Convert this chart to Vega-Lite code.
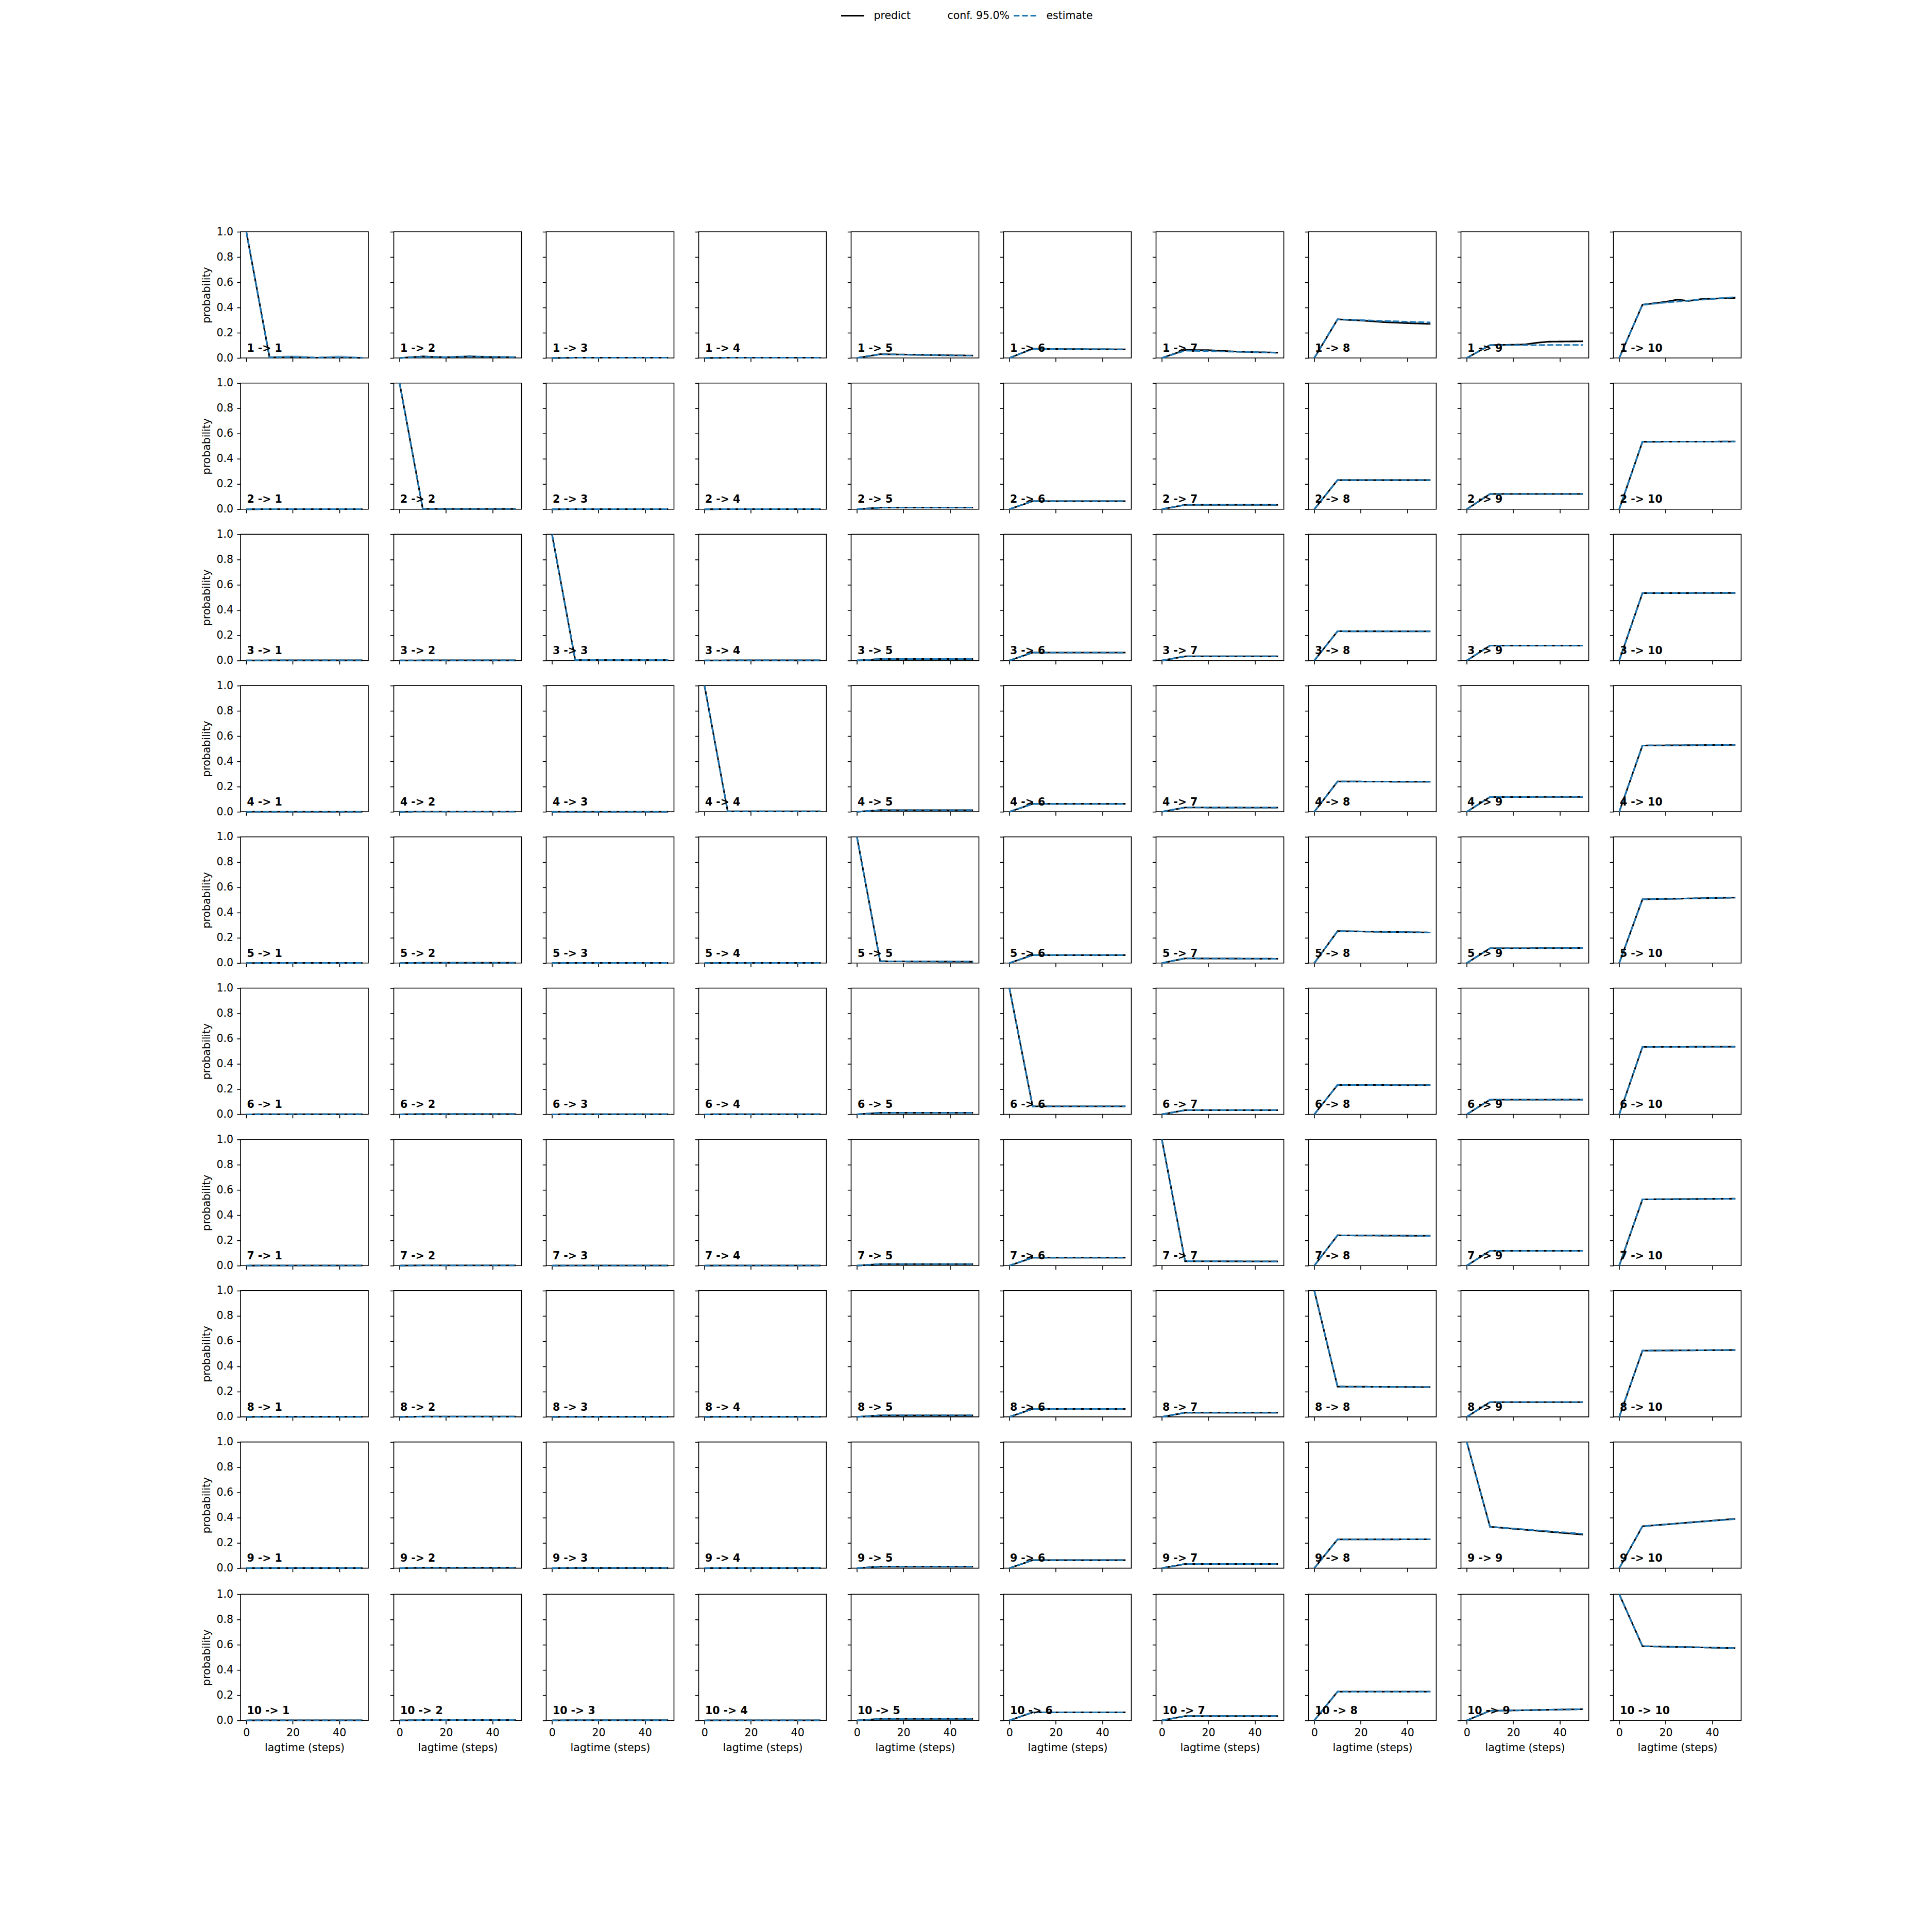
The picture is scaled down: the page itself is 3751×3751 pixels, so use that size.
{
"$schema": "https://vega.github.io/schema/vega-lite/v6.json",
"background": "white",
"padding": {"left": 391, "top": 6, "right": 0, "bottom": 0},
"autosize": {"type": "pad"},
"datasets": {"ck": [
{"i":1,"j":1,"lag":0,"predict":1,"estimate":1,"lo":1,"hi":1,"label":"1 -> 1"},
{"i":1,"j":1,"lag":10,"predict":0.004,"estimate":0.004,"lo":0,"hi":0.01},
{"i":1,"j":1,"lag":20,"predict":0.006,"estimate":0.008,"lo":0,"hi":0.025},
{"i":1,"j":1,"lag":30,"predict":0.002,"estimate":0.003,"lo":0,"hi":0.008},
{"i":1,"j":1,"lag":40,"predict":0.004,"estimate":0.006,"lo":0,"hi":0.022},
{"i":1,"j":1,"lag":50,"predict":0.001,"estimate":0.002,"lo":0,"hi":0.005},
{"i":1,"j":2,"lag":0,"predict":0,"estimate":0,"lo":0,"hi":0,"label":"1 -> 2"},
{"i":1,"j":2,"lag":10,"predict":0.012,"estimate":0.01,"lo":0,"hi":0.02},
{"i":1,"j":2,"lag":20,"predict":0.005,"estimate":0.006,"lo":0,"hi":0.012},
{"i":1,"j":2,"lag":30,"predict":0.012,"estimate":0.012,"lo":0.002,"hi":0.025},
{"i":1,"j":2,"lag":40,"predict":0.007,"estimate":0.008,"lo":0,"hi":0.015},
{"i":1,"j":2,"lag":50,"predict":0.006,"estimate":0.006,"lo":0,"hi":0.012},
{"i":1,"j":3,"lag":0,"predict":0,"estimate":0,"lo":0,"hi":0,"label":"1 -> 3"},
{"i":1,"j":3,"lag":10,"predict":0.002,"estimate":0.002,"lo":0,"hi":0.004},
{"i":1,"j":3,"lag":20,"predict":0.002,"estimate":0.002,"lo":0,"hi":0.004},
{"i":1,"j":3,"lag":30,"predict":0.002,"estimate":0.002,"lo":0,"hi":0.004},
{"i":1,"j":3,"lag":40,"predict":0.002,"estimate":0.002,"lo":0,"hi":0.004},
{"i":1,"j":3,"lag":50,"predict":0.002,"estimate":0.002,"lo":0,"hi":0.004},
{"i":1,"j":4,"lag":0,"predict":0,"estimate":0,"lo":0,"hi":0,"label":"1 -> 4"},
{"i":1,"j":4,"lag":10,"predict":0.002,"estimate":0.002,"lo":0,"hi":0.004},
{"i":1,"j":4,"lag":20,"predict":0.002,"estimate":0.002,"lo":0,"hi":0.004},
{"i":1,"j":4,"lag":30,"predict":0.002,"estimate":0.002,"lo":0,"hi":0.004},
{"i":1,"j":4,"lag":40,"predict":0.002,"estimate":0.002,"lo":0,"hi":0.004},
{"i":1,"j":4,"lag":50,"predict":0.002,"estimate":0.002,"lo":0,"hi":0.004},
{"i":1,"j":5,"lag":0,"predict":0,"estimate":0,"lo":0,"hi":0,"label":"1 -> 5"},
{"i":1,"j":5,"lag":10,"predict":0.03,"estimate":0.029,"lo":0.025,"hi":0.033},
{"i":1,"j":5,"lag":20,"predict":0.027,"estimate":0.026,"lo":0.022,"hi":0.03},
{"i":1,"j":5,"lag":30,"predict":0.024,"estimate":0.023,"lo":0.019,"hi":0.027},
{"i":1,"j":5,"lag":40,"predict":0.021,"estimate":0.02,"lo":0.016,"hi":0.024},
{"i":1,"j":5,"lag":50,"predict":0.019,"estimate":0.018,"lo":0.014,"hi":0.022},
{"i":1,"j":6,"lag":0,"predict":0,"estimate":0,"lo":0,"hi":0,"label":"1 -> 6"},
{"i":1,"j":6,"lag":10,"predict":0.073,"estimate":0.072,"lo":0.068,"hi":0.077},
{"i":1,"j":6,"lag":20,"predict":0.071,"estimate":0.071,"lo":0.067,"hi":0.075},
{"i":1,"j":6,"lag":30,"predict":0.07,"estimate":0.07,"lo":0.066,"hi":0.074},
{"i":1,"j":6,"lag":40,"predict":0.069,"estimate":0.069,"lo":0.065,"hi":0.073},
{"i":1,"j":6,"lag":50,"predict":0.068,"estimate":0.068,"lo":0.064,"hi":0.072},
{"i":1,"j":7,"lag":0,"predict":0,"estimate":0,"lo":0,"hi":0,"label":"1 -> 7"},
{"i":1,"j":7,"lag":10,"predict":0.063,"estimate":0.058,"lo":0.054,"hi":0.062},
{"i":1,"j":7,"lag":20,"predict":0.062,"estimate":0.054,"lo":0.05,"hi":0.058},
{"i":1,"j":7,"lag":30,"predict":0.052,"estimate":0.05,"lo":0.046,"hi":0.054},
{"i":1,"j":7,"lag":40,"predict":0.046,"estimate":0.046,"lo":0.042,"hi":0.05},
{"i":1,"j":7,"lag":50,"predict":0.042,"estimate":0.042,"lo":0.038,"hi":0.046},
{"i":1,"j":8,"lag":0,"predict":0,"estimate":0,"lo":0,"hi":0,"label":"1 -> 8"},
{"i":1,"j":8,"lag":10,"predict":0.306,"estimate":0.306,"lo":0.3,"hi":0.312},
{"i":1,"j":8,"lag":20,"predict":0.297,"estimate":0.3,"lo":0.294,"hi":0.306},
{"i":1,"j":8,"lag":30,"predict":0.284,"estimate":0.293,"lo":0.287,"hi":0.299},
{"i":1,"j":8,"lag":40,"predict":0.276,"estimate":0.287,"lo":0.281,"hi":0.293},
{"i":1,"j":8,"lag":50,"predict":0.27,"estimate":0.281,"lo":0.275,"hi":0.287},
{"i":1,"j":9,"lag":0,"predict":0,"estimate":0,"lo":0,"hi":0,"label":"1 -> 9"},
{"i":1,"j":9,"lag":10,"predict":0.102,"estimate":0.102,"lo":0.098,"hi":0.106},
{"i":1,"j":9,"lag":20,"predict":0.105,"estimate":0.102,"lo":0.098,"hi":0.106},
{"i":1,"j":9,"lag":25,"predict":0.107,"estimate":0.102,"lo":0.098,"hi":0.106},
{"i":1,"j":9,"lag":30,"predict":0.12,"estimate":0.102,"lo":0.098,"hi":0.106},
{"i":1,"j":9,"lag":35,"predict":0.129,"estimate":0.103,"lo":0.099,"hi":0.107},
{"i":1,"j":9,"lag":40,"predict":0.13,"estimate":0.103,"lo":0.099,"hi":0.107},
{"i":1,"j":9,"lag":50,"predict":0.132,"estimate":0.103,"lo":0.099,"hi":0.107},
{"i":1,"j":10,"lag":0,"predict":0,"estimate":0,"lo":0,"hi":0,"label":"1 -> 10"},
{"i":1,"j":10,"lag":10,"predict":0.422,"estimate":0.422,"lo":0.414,"hi":0.43},
{"i":1,"j":10,"lag":20,"predict":0.445,"estimate":0.44,"lo":0.432,"hi":0.448},
{"i":1,"j":10,"lag":25,"predict":0.462,"estimate":0.447,"lo":0.439,"hi":0.455},
{"i":1,"j":10,"lag":30,"predict":0.452,"estimate":0.455,"lo":0.447,"hi":0.463},
{"i":1,"j":10,"lag":35,"predict":0.466,"estimate":0.462,"lo":0.454,"hi":0.47},
{"i":1,"j":10,"lag":40,"predict":0.47,"estimate":0.468,"lo":0.46,"hi":0.476},
{"i":1,"j":10,"lag":50,"predict":0.476,"estimate":0.482,"lo":0.474,"hi":0.49},
{"i":2,"j":1,"lag":0,"predict":0,"estimate":0,"label":"2 -> 1"},
{"i":2,"j":1,"lag":10,"predict":0.001,"estimate":0.001},
{"i":2,"j":1,"lag":50,"predict":0.001,"estimate":0.001},
{"i":2,"j":2,"lag":0,"predict":1,"estimate":1,"label":"2 -> 2"},
{"i":2,"j":2,"lag":10,"predict":0.003,"estimate":0.003},
{"i":2,"j":2,"lag":50,"predict":0.003,"estimate":0.003},
{"i":2,"j":3,"lag":0,"predict":0,"estimate":0,"label":"2 -> 3"},
{"i":2,"j":3,"lag":10,"predict":0.001,"estimate":0.001},
{"i":2,"j":3,"lag":50,"predict":0.001,"estimate":0.001},
{"i":2,"j":4,"lag":0,"predict":0,"estimate":0,"label":"2 -> 4"},
{"i":2,"j":4,"lag":10,"predict":0.001,"estimate":0.001},
{"i":2,"j":4,"lag":50,"predict":0.001,"estimate":0.001},
{"i":2,"j":5,"lag":0,"predict":0,"estimate":0,"label":"2 -> 5"},
{"i":2,"j":5,"lag":10,"predict":0.013,"estimate":0.013},
{"i":2,"j":5,"lag":50,"predict":0.013,"estimate":0.013},
{"i":2,"j":6,"lag":0,"predict":0,"estimate":0,"label":"2 -> 6"},
{"i":2,"j":6,"lag":10,"predict":0.064,"estimate":0.064},
{"i":2,"j":6,"lag":50,"predict":0.064,"estimate":0.064},
{"i":2,"j":7,"lag":0,"predict":0,"estimate":0,"label":"2 -> 7"},
{"i":2,"j":7,"lag":10,"predict":0.035,"estimate":0.035},
{"i":2,"j":7,"lag":50,"predict":0.035,"estimate":0.035},
{"i":2,"j":8,"lag":0,"predict":0,"estimate":0,"label":"2 -> 8"},
{"i":2,"j":8,"lag":10,"predict":0.231,"estimate":0.231},
{"i":2,"j":8,"lag":50,"predict":0.231,"estimate":0.231},
{"i":2,"j":9,"lag":0,"predict":0,"estimate":0,"label":"2 -> 9"},
{"i":2,"j":9,"lag":10,"predict":0.121,"estimate":0.121},
{"i":2,"j":9,"lag":50,"predict":0.121,"estimate":0.121},
{"i":2,"j":10,"lag":0,"predict":0,"estimate":0,"label":"2 -> 10"},
{"i":2,"j":10,"lag":10,"predict":0.535,"estimate":0.535},
{"i":2,"j":10,"lag":50,"predict":0.536,"estimate":0.536},
{"i":3,"j":1,"lag":0,"predict":0,"estimate":0,"label":"3 -> 1"},
{"i":3,"j":1,"lag":10,"predict":0.001,"estimate":0.001},
{"i":3,"j":1,"lag":50,"predict":0.001,"estimate":0.001},
{"i":3,"j":2,"lag":0,"predict":0,"estimate":0,"label":"3 -> 2"},
{"i":3,"j":2,"lag":10,"predict":0.001,"estimate":0.001},
{"i":3,"j":2,"lag":50,"predict":0.001,"estimate":0.001},
{"i":3,"j":3,"lag":0,"predict":1,"estimate":1,"label":"3 -> 3"},
{"i":3,"j":3,"lag":10,"predict":0.003,"estimate":0.003},
{"i":3,"j":3,"lag":50,"predict":0.003,"estimate":0.003},
{"i":3,"j":4,"lag":0,"predict":0,"estimate":0,"label":"3 -> 4"},
{"i":3,"j":4,"lag":10,"predict":0.001,"estimate":0.001},
{"i":3,"j":4,"lag":50,"predict":0.001,"estimate":0.001},
{"i":3,"j":5,"lag":0,"predict":0,"estimate":0,"label":"3 -> 5"},
{"i":3,"j":5,"lag":10,"predict":0.012,"estimate":0.012},
{"i":3,"j":5,"lag":50,"predict":0.012,"estimate":0.012},
{"i":3,"j":6,"lag":0,"predict":0,"estimate":0,"label":"3 -> 6"},
{"i":3,"j":6,"lag":10,"predict":0.063,"estimate":0.063},
{"i":3,"j":6,"lag":50,"predict":0.063,"estimate":0.063},
{"i":3,"j":7,"lag":0,"predict":0,"estimate":0,"label":"3 -> 7"},
{"i":3,"j":7,"lag":10,"predict":0.033,"estimate":0.033},
{"i":3,"j":7,"lag":50,"predict":0.033,"estimate":0.033},
{"i":3,"j":8,"lag":0,"predict":0,"estimate":0,"label":"3 -> 8"},
{"i":3,"j":8,"lag":10,"predict":0.232,"estimate":0.232},
{"i":3,"j":8,"lag":50,"predict":0.231,"estimate":0.231},
{"i":3,"j":9,"lag":0,"predict":0,"estimate":0,"label":"3 -> 9"},
{"i":3,"j":9,"lag":10,"predict":0.118,"estimate":0.118},
{"i":3,"j":9,"lag":50,"predict":0.118,"estimate":0.118},
{"i":3,"j":10,"lag":0,"predict":0,"estimate":0,"label":"3 -> 10"},
{"i":3,"j":10,"lag":10,"predict":0.534,"estimate":0.534},
{"i":3,"j":10,"lag":50,"predict":0.536,"estimate":0.536},
{"i":4,"j":1,"lag":0,"predict":0,"estimate":0,"label":"4 -> 1"},
{"i":4,"j":1,"lag":10,"predict":0.001,"estimate":0.001},
{"i":4,"j":1,"lag":50,"predict":0.001,"estimate":0.001},
{"i":4,"j":2,"lag":0,"predict":0,"estimate":0,"label":"4 -> 2"},
{"i":4,"j":2,"lag":10,"predict":0.002,"estimate":0.002},
{"i":4,"j":2,"lag":50,"predict":0.002,"estimate":0.002},
{"i":4,"j":3,"lag":0,"predict":0,"estimate":0,"label":"4 -> 3"},
{"i":4,"j":3,"lag":10,"predict":0.001,"estimate":0.001},
{"i":4,"j":3,"lag":50,"predict":0.001,"estimate":0.001},
{"i":4,"j":4,"lag":0,"predict":1,"estimate":1,"label":"4 -> 4"},
{"i":4,"j":4,"lag":10,"predict":0.003,"estimate":0.003},
{"i":4,"j":4,"lag":50,"predict":0.003,"estimate":0.003},
{"i":4,"j":5,"lag":0,"predict":0,"estimate":0,"label":"4 -> 5"},
{"i":4,"j":5,"lag":10,"predict":0.013,"estimate":0.013},
{"i":4,"j":5,"lag":50,"predict":0.012,"estimate":0.012},
{"i":4,"j":6,"lag":0,"predict":0,"estimate":0,"label":"4 -> 6"},
{"i":4,"j":6,"lag":10,"predict":0.063,"estimate":0.063},
{"i":4,"j":6,"lag":50,"predict":0.063,"estimate":0.063},
{"i":4,"j":7,"lag":0,"predict":0,"estimate":0,"label":"4 -> 7"},
{"i":4,"j":7,"lag":10,"predict":0.034,"estimate":0.034},
{"i":4,"j":7,"lag":50,"predict":0.033,"estimate":0.033},
{"i":4,"j":8,"lag":0,"predict":0,"estimate":0,"label":"4 -> 8"},
{"i":4,"j":8,"lag":10,"predict":0.24,"estimate":0.24},
{"i":4,"j":8,"lag":50,"predict":0.238,"estimate":0.238},
{"i":4,"j":9,"lag":0,"predict":0,"estimate":0,"label":"4 -> 9"},
{"i":4,"j":9,"lag":10,"predict":0.117,"estimate":0.117},
{"i":4,"j":9,"lag":50,"predict":0.118,"estimate":0.118},
{"i":4,"j":10,"lag":0,"predict":0,"estimate":0,"label":"4 -> 10"},
{"i":4,"j":10,"lag":10,"predict":0.525,"estimate":0.525},
{"i":4,"j":10,"lag":50,"predict":0.53,"estimate":0.53},
{"i":5,"j":1,"lag":0,"predict":0,"estimate":0,"label":"5 -> 1"},
{"i":5,"j":1,"lag":10,"predict":0.001,"estimate":0.001},
{"i":5,"j":1,"lag":50,"predict":0.001,"estimate":0.001},
{"i":5,"j":2,"lag":0,"predict":0,"estimate":0,"label":"5 -> 2"},
{"i":5,"j":2,"lag":10,"predict":0.002,"estimate":0.002},
{"i":5,"j":2,"lag":50,"predict":0.002,"estimate":0.002},
{"i":5,"j":3,"lag":0,"predict":0,"estimate":0,"label":"5 -> 3"},
{"i":5,"j":3,"lag":10,"predict":0.001,"estimate":0.001},
{"i":5,"j":3,"lag":50,"predict":0.001,"estimate":0.001},
{"i":5,"j":4,"lag":0,"predict":0,"estimate":0,"label":"5 -> 4"},
{"i":5,"j":4,"lag":10,"predict":0.001,"estimate":0.001},
{"i":5,"j":4,"lag":50,"predict":0.001,"estimate":0.001},
{"i":5,"j":5,"lag":0,"predict":1,"estimate":1,"label":"5 -> 5"},
{"i":5,"j":5,"lag":10,"predict":0.014,"estimate":0.014},
{"i":5,"j":5,"lag":50,"predict":0.011,"estimate":0.011},
{"i":5,"j":6,"lag":0,"predict":0,"estimate":0,"label":"5 -> 6"},
{"i":5,"j":6,"lag":10,"predict":0.063,"estimate":0.063},
{"i":5,"j":6,"lag":50,"predict":0.063,"estimate":0.063},
{"i":5,"j":7,"lag":0,"predict":0,"estimate":0,"label":"5 -> 7"},
{"i":5,"j":7,"lag":10,"predict":0.037,"estimate":0.037},
{"i":5,"j":7,"lag":50,"predict":0.034,"estimate":0.034},
{"i":5,"j":8,"lag":0,"predict":0,"estimate":0,"label":"5 -> 8"},
{"i":5,"j":8,"lag":10,"predict":0.253,"estimate":0.253},
{"i":5,"j":8,"lag":50,"predict":0.242,"estimate":0.242},
{"i":5,"j":9,"lag":0,"predict":0,"estimate":0,"label":"5 -> 9"},
{"i":5,"j":9,"lag":10,"predict":0.117,"estimate":0.117},
{"i":5,"j":9,"lag":50,"predict":0.119,"estimate":0.119},
{"i":5,"j":10,"lag":0,"predict":0,"estimate":0,"label":"5 -> 10"},
{"i":5,"j":10,"lag":10,"predict":0.505,"estimate":0.505},
{"i":5,"j":10,"lag":50,"predict":0.519,"estimate":0.519},
{"i":6,"j":1,"lag":0,"predict":0,"estimate":0,"label":"6 -> 1"},
{"i":6,"j":1,"lag":10,"predict":0.001,"estimate":0.001},
{"i":6,"j":1,"lag":50,"predict":0.001,"estimate":0.001},
{"i":6,"j":2,"lag":0,"predict":0,"estimate":0,"label":"6 -> 2"},
{"i":6,"j":2,"lag":10,"predict":0.002,"estimate":0.002},
{"i":6,"j":2,"lag":50,"predict":0.002,"estimate":0.002},
{"i":6,"j":3,"lag":0,"predict":0,"estimate":0,"label":"6 -> 3"},
{"i":6,"j":3,"lag":10,"predict":0.001,"estimate":0.001},
{"i":6,"j":3,"lag":50,"predict":0.001,"estimate":0.001},
{"i":6,"j":4,"lag":0,"predict":0,"estimate":0,"label":"6 -> 4"},
{"i":6,"j":4,"lag":10,"predict":0.001,"estimate":0.001},
{"i":6,"j":4,"lag":50,"predict":0.001,"estimate":0.001},
{"i":6,"j":5,"lag":0,"predict":0,"estimate":0,"label":"6 -> 5"},
{"i":6,"j":5,"lag":10,"predict":0.012,"estimate":0.012},
{"i":6,"j":5,"lag":50,"predict":0.012,"estimate":0.012},
{"i":6,"j":6,"lag":0,"predict":1,"estimate":1,"label":"6 -> 6"},
{"i":6,"j":6,"lag":10,"predict":0.063,"estimate":0.063},
{"i":6,"j":6,"lag":50,"predict":0.063,"estimate":0.063},
{"i":6,"j":7,"lag":0,"predict":0,"estimate":0,"label":"6 -> 7"},
{"i":6,"j":7,"lag":10,"predict":0.033,"estimate":0.033},
{"i":6,"j":7,"lag":50,"predict":0.033,"estimate":0.033},
{"i":6,"j":8,"lag":0,"predict":0,"estimate":0,"label":"6 -> 8"},
{"i":6,"j":8,"lag":10,"predict":0.233,"estimate":0.233},
{"i":6,"j":8,"lag":50,"predict":0.231,"estimate":0.231},
{"i":6,"j":9,"lag":0,"predict":0,"estimate":0,"label":"6 -> 9"},
{"i":6,"j":9,"lag":10,"predict":0.116,"estimate":0.116},
{"i":6,"j":9,"lag":50,"predict":0.117,"estimate":0.117},
{"i":6,"j":10,"lag":0,"predict":0,"estimate":0,"label":"6 -> 10"},
{"i":6,"j":10,"lag":10,"predict":0.534,"estimate":0.534},
{"i":6,"j":10,"lag":50,"predict":0.536,"estimate":0.536},
{"i":7,"j":1,"lag":0,"predict":0,"estimate":0,"label":"7 -> 1"},
{"i":7,"j":1,"lag":10,"predict":0.001,"estimate":0.001},
{"i":7,"j":1,"lag":50,"predict":0.001,"estimate":0.001},
{"i":7,"j":2,"lag":0,"predict":0,"estimate":0,"label":"7 -> 2"},
{"i":7,"j":2,"lag":10,"predict":0.002,"estimate":0.002},
{"i":7,"j":2,"lag":50,"predict":0.002,"estimate":0.002},
{"i":7,"j":3,"lag":0,"predict":0,"estimate":0,"label":"7 -> 3"},
{"i":7,"j":3,"lag":10,"predict":0.001,"estimate":0.001},
{"i":7,"j":3,"lag":50,"predict":0.001,"estimate":0.001},
{"i":7,"j":4,"lag":0,"predict":0,"estimate":0,"label":"7 -> 4"},
{"i":7,"j":4,"lag":10,"predict":0.001,"estimate":0.001},
{"i":7,"j":4,"lag":50,"predict":0.001,"estimate":0.001},
{"i":7,"j":5,"lag":0,"predict":0,"estimate":0,"label":"7 -> 5"},
{"i":7,"j":5,"lag":10,"predict":0.012,"estimate":0.012},
{"i":7,"j":5,"lag":50,"predict":0.012,"estimate":0.012},
{"i":7,"j":6,"lag":0,"predict":0,"estimate":0,"label":"7 -> 6"},
{"i":7,"j":6,"lag":10,"predict":0.063,"estimate":0.063},
{"i":7,"j":6,"lag":50,"predict":0.063,"estimate":0.063},
{"i":7,"j":7,"lag":0,"predict":1,"estimate":1,"label":"7 -> 7"},
{"i":7,"j":7,"lag":10,"predict":0.035,"estimate":0.035},
{"i":7,"j":7,"lag":50,"predict":0.033,"estimate":0.033},
{"i":7,"j":8,"lag":0,"predict":0,"estimate":0,"label":"7 -> 8"},
{"i":7,"j":8,"lag":10,"predict":0.24,"estimate":0.24},
{"i":7,"j":8,"lag":50,"predict":0.236,"estimate":0.236},
{"i":7,"j":9,"lag":0,"predict":0,"estimate":0,"label":"7 -> 9"},
{"i":7,"j":9,"lag":10,"predict":0.117,"estimate":0.117},
{"i":7,"j":9,"lag":50,"predict":0.117,"estimate":0.117},
{"i":7,"j":10,"lag":0,"predict":0,"estimate":0,"label":"7 -> 10"},
{"i":7,"j":10,"lag":10,"predict":0.525,"estimate":0.525},
{"i":7,"j":10,"lag":50,"predict":0.53,"estimate":0.53},
{"i":8,"j":1,"lag":0,"predict":0,"estimate":0,"label":"8 -> 1"},
{"i":8,"j":1,"lag":10,"predict":0.001,"estimate":0.001},
{"i":8,"j":1,"lag":50,"predict":0.001,"estimate":0.001},
{"i":8,"j":2,"lag":0,"predict":0,"estimate":0,"label":"8 -> 2"},
{"i":8,"j":2,"lag":10,"predict":0.002,"estimate":0.002},
{"i":8,"j":2,"lag":50,"predict":0.002,"estimate":0.002},
{"i":8,"j":3,"lag":0,"predict":0,"estimate":0,"label":"8 -> 3"},
{"i":8,"j":3,"lag":10,"predict":0.001,"estimate":0.001},
{"i":8,"j":3,"lag":50,"predict":0.001,"estimate":0.001},
{"i":8,"j":4,"lag":0,"predict":0,"estimate":0,"label":"8 -> 4"},
{"i":8,"j":4,"lag":10,"predict":0.001,"estimate":0.001},
{"i":8,"j":4,"lag":50,"predict":0.001,"estimate":0.001},
{"i":8,"j":5,"lag":0,"predict":0,"estimate":0,"label":"8 -> 5"},
{"i":8,"j":5,"lag":10,"predict":0.012,"estimate":0.012},
{"i":8,"j":5,"lag":50,"predict":0.012,"estimate":0.012},
{"i":8,"j":6,"lag":0,"predict":0,"estimate":0,"label":"8 -> 6"},
{"i":8,"j":6,"lag":10,"predict":0.063,"estimate":0.063},
{"i":8,"j":6,"lag":50,"predict":0.063,"estimate":0.063},
{"i":8,"j":7,"lag":0,"predict":0,"estimate":0,"label":"8 -> 7"},
{"i":8,"j":7,"lag":10,"predict":0.033,"estimate":0.033},
{"i":8,"j":7,"lag":50,"predict":0.033,"estimate":0.033},
{"i":8,"j":8,"lag":0,"predict":1,"estimate":1,"label":"8 -> 8"},
{"i":8,"j":8,"lag":10,"predict":0.24,"estimate":0.24},
{"i":8,"j":8,"lag":50,"predict":0.236,"estimate":0.236},
{"i":8,"j":9,"lag":0,"predict":0,"estimate":0,"label":"8 -> 9"},
{"i":8,"j":9,"lag":10,"predict":0.117,"estimate":0.117},
{"i":8,"j":9,"lag":50,"predict":0.117,"estimate":0.117},
{"i":8,"j":10,"lag":0,"predict":0,"estimate":0,"label":"8 -> 10"},
{"i":8,"j":10,"lag":10,"predict":0.525,"estimate":0.525},
{"i":8,"j":10,"lag":50,"predict":0.53,"estimate":0.53},
{"i":9,"j":1,"lag":0,"predict":0,"estimate":0,"label":"9 -> 1"},
{"i":9,"j":1,"lag":10,"predict":0.001,"estimate":0.001},
{"i":9,"j":1,"lag":50,"predict":0.001,"estimate":0.001},
{"i":9,"j":2,"lag":0,"predict":0,"estimate":0,"label":"9 -> 2"},
{"i":9,"j":2,"lag":10,"predict":0.004,"estimate":0.004},
{"i":9,"j":2,"lag":50,"predict":0.004,"estimate":0.004},
{"i":9,"j":3,"lag":0,"predict":0,"estimate":0,"label":"9 -> 3"},
{"i":9,"j":3,"lag":10,"predict":0.002,"estimate":0.002},
{"i":9,"j":3,"lag":50,"predict":0.002,"estimate":0.002},
{"i":9,"j":4,"lag":0,"predict":0,"estimate":0,"label":"9 -> 4"},
{"i":9,"j":4,"lag":10,"predict":0.001,"estimate":0.001},
{"i":9,"j":4,"lag":50,"predict":0.001,"estimate":0.001},
{"i":9,"j":5,"lag":0,"predict":0,"estimate":0,"label":"9 -> 5"},
{"i":9,"j":5,"lag":10,"predict":0.012,"estimate":0.012},
{"i":9,"j":5,"lag":50,"predict":0.012,"estimate":0.012},
{"i":9,"j":6,"lag":0,"predict":0,"estimate":0,"label":"9 -> 6"},
{"i":9,"j":6,"lag":10,"predict":0.063,"estimate":0.063},
{"i":9,"j":6,"lag":50,"predict":0.063,"estimate":0.063},
{"i":9,"j":7,"lag":0,"predict":0,"estimate":0,"label":"9 -> 7"},
{"i":9,"j":7,"lag":10,"predict":0.033,"estimate":0.033},
{"i":9,"j":7,"lag":50,"predict":0.033,"estimate":0.033},
{"i":9,"j":8,"lag":0,"predict":0,"estimate":0,"label":"9 -> 8"},
{"i":9,"j":8,"lag":10,"predict":0.228,"estimate":0.228},
{"i":9,"j":8,"lag":50,"predict":0.229,"estimate":0.229},
{"i":9,"j":9,"lag":0,"predict":1,"estimate":1,"label":"9 -> 9"},
{"i":9,"j":9,"lag":10,"predict":0.328,"estimate":0.328},
{"i":9,"j":9,"lag":50,"predict":0.266,"estimate":0.272},
{"i":9,"j":10,"lag":0,"predict":0,"estimate":0,"label":"9 -> 10"},
{"i":9,"j":10,"lag":10,"predict":0.332,"estimate":0.332},
{"i":9,"j":10,"lag":50,"predict":0.391,"estimate":0.389},
{"i":10,"j":1,"lag":0,"predict":0,"estimate":0,"label":"10 -> 1"},
{"i":10,"j":1,"lag":10,"predict":0.001,"estimate":0.001},
{"i":10,"j":1,"lag":50,"predict":0.001,"estimate":0.001},
{"i":10,"j":2,"lag":0,"predict":0,"estimate":0,"label":"10 -> 2"},
{"i":10,"j":2,"lag":10,"predict":0.003,"estimate":0.003},
{"i":10,"j":2,"lag":50,"predict":0.003,"estimate":0.003},
{"i":10,"j":3,"lag":0,"predict":0,"estimate":0,"label":"10 -> 3"},
{"i":10,"j":3,"lag":10,"predict":0.002,"estimate":0.002},
{"i":10,"j":3,"lag":50,"predict":0.002,"estimate":0.002},
{"i":10,"j":4,"lag":0,"predict":0,"estimate":0,"label":"10 -> 4"},
{"i":10,"j":4,"lag":10,"predict":0.001,"estimate":0.001},
{"i":10,"j":4,"lag":50,"predict":0.001,"estimate":0.001},
{"i":10,"j":5,"lag":0,"predict":0,"estimate":0,"label":"10 -> 5"},
{"i":10,"j":5,"lag":10,"predict":0.012,"estimate":0.012},
{"i":10,"j":5,"lag":50,"predict":0.012,"estimate":0.012},
{"i":10,"j":6,"lag":0,"predict":0,"estimate":0,"label":"10 -> 6"},
{"i":10,"j":6,"lag":10,"predict":0.064,"estimate":0.064},
{"i":10,"j":6,"lag":50,"predict":0.064,"estimate":0.064},
{"i":10,"j":7,"lag":0,"predict":0,"estimate":0,"label":"10 -> 7"},
{"i":10,"j":7,"lag":10,"predict":0.034,"estimate":0.034},
{"i":10,"j":7,"lag":50,"predict":0.034,"estimate":0.034},
{"i":10,"j":8,"lag":0,"predict":0,"estimate":0,"label":"10 -> 8"},
{"i":10,"j":8,"lag":10,"predict":0.228,"estimate":0.228},
{"i":10,"j":8,"lag":50,"predict":0.228,"estimate":0.228},
{"i":10,"j":9,"lag":0,"predict":0,"estimate":0,"label":"10 -> 9"},
{"i":10,"j":9,"lag":10,"predict":0.076,"estimate":0.076},
{"i":10,"j":9,"lag":50,"predict":0.089,"estimate":0.089},
{"i":10,"j":10,"lag":0,"predict":1,"estimate":1,"label":"10 -> 10"},
{"i":10,"j":10,"lag":10,"predict":0.588,"estimate":0.588},
{"i":10,"j":10,"lag":50,"predict":0.573,"estimate":0.573}
]},
"data": {"name": "ck"},
"columns": 2,
"align": "each",
"bounds": "full",
"spacing": {"row": 28.2, "column": 32.5},
"concat": [
  {"transform": [{"filter": "datum.i <= 9 && datum.j == 1"}],
   "facet": {"row": {"field": "i", "type": "ordinal", "header": null}, "column": {"field": "j", "type": "ordinal", "header": null}},
   "spacing": {"row": 48.7, "column": 48}, "bounds": "flush",
   "resolve": {"axis": {"x": "independent", "y": "independent"}},
   "spec": {"width": 248, "height": 245,
    "encoding": {"x": {"field": "lag", "type": "quantitative", "scale": {"domain": [-2.5, 52.5], "nice": false, "zero": false}, "axis": {"values": [0, 20, 40], "labels": false, "title": null}}},
    "layer": [
     {"mark": {"type": "area", "color": "#1f77b4", "opacity": 0.2}, "encoding": {"y": {"field": "lo", "type": "quantitative", "scale": {"domain": [0, 1], "nice": false}, "axis": {"values": [0, 0.2, 0.4, 0.6, 0.8, 1], "format": ".1f", "title": "probability"}}, "y2": {"field": "hi"}}},
     {"mark": "line", "encoding": {"y": {"field": "predict", "type": "quantitative", "axis": {"values": [0, 0.2, 0.4, 0.6, 0.8, 1], "format": ".1f", "title": "probability"}}, "color": {"datum": "predict", "scale": {"domain": ["predict", "conf. 95.0%", "estimate"], "range": ["black", "transparent", "#1f77b4"]}, "legend": {"title": null, "orient": "none", "legendX": 1164, "legendY": -444, "direction": "horizontal"}}, "strokeDash": {"datum": "predict", "scale": {"domain": ["predict", "conf. 95.0%", "estimate"], "range": [[1, 0], [1, 0], [11.4, 4.9]]}, "legend": {"title": null, "orient": "none", "legendX": 1164, "legendY": -444, "direction": "horizontal"}}}},
     {"mark": "line", "encoding": {"y": {"field": "estimate", "type": "quantitative", "axis": {"values": [0, 0.2, 0.4, 0.6, 0.8, 1], "format": ".1f", "title": "probability"}}, "color": {"datum": "estimate"}, "strokeDash": {"datum": "estimate"}}},
     {"transform": [{"filter": "datum.lag == 0"}], "mark": "text", "encoding": {"x": {"datum": 0.25}, "y": {"datum": 0.05}, "text": {"field": "label"}}}
    ]}
  },
  {"transform": [{"filter": "datum.i <= 9 && datum.j >= 2"}],
   "facet": {"row": {"field": "i", "type": "ordinal", "header": null}, "column": {"field": "j", "type": "ordinal", "header": null}},
   "spacing": {"row": 48.7, "column": 48}, "bounds": "flush",
   "resolve": {"axis": {"x": "independent", "y": "independent"}},
   "spec": {"width": 248, "height": 245,
    "encoding": {"x": {"field": "lag", "type": "quantitative", "scale": {"domain": [-2.5, 52.5], "nice": false, "zero": false}, "axis": {"values": [0, 20, 40], "labels": false, "title": null}}},
    "layer": [
     {"mark": {"type": "area", "color": "#1f77b4", "opacity": 0.2}, "encoding": {"y": {"field": "lo", "type": "quantitative", "scale": {"domain": [0, 1], "nice": false}, "axis": {"values": [0, 0.2, 0.4, 0.6, 0.8, 1], "labelExpr": "' '", "title": null}}, "y2": {"field": "hi"}}},
     {"mark": "line", "encoding": {"y": {"field": "predict", "type": "quantitative", "axis": {"values": [0, 0.2, 0.4, 0.6, 0.8, 1], "labelExpr": "' '", "title": null}}, "color": {"datum": "predict", "scale": {"domain": ["predict", "conf. 95.0%", "estimate"], "range": ["black", "transparent", "#1f77b4"]}, "legend": {"title": null, "orient": "none", "legendX": 1164, "legendY": -444, "direction": "horizontal"}}, "strokeDash": {"datum": "predict", "scale": {"domain": ["predict", "conf. 95.0%", "estimate"], "range": [[1, 0], [1, 0], [11.4, 4.9]]}, "legend": {"title": null, "orient": "none", "legendX": 1164, "legendY": -444, "direction": "horizontal"}}}},
     {"mark": "line", "encoding": {"y": {"field": "estimate", "type": "quantitative", "axis": {"values": [0, 0.2, 0.4, 0.6, 0.8, 1], "labelExpr": "' '", "title": null}}, "color": {"datum": "estimate"}, "strokeDash": {"datum": "estimate"}}},
     {"transform": [{"filter": "datum.lag == 0"}], "mark": "text", "encoding": {"x": {"datum": 0.25}, "y": {"datum": 0.05}, "text": {"field": "label"}}}
    ]}
  },
  {"transform": [{"filter": "datum.i == 10 && datum.j == 1"}],
   "facet": {"row": {"field": "i", "type": "ordinal", "header": null}, "column": {"field": "j", "type": "ordinal", "header": null}},
   "spacing": {"row": 48.7, "column": 48}, "bounds": "flush",
   "resolve": {"axis": {"x": "independent", "y": "independent"}},
   "spec": {"width": 248, "height": 245,
    "encoding": {"x": {"field": "lag", "type": "quantitative", "scale": {"domain": [-2.5, 52.5], "nice": false, "zero": false}, "axis": {"values": [0, 20, 40], "title": "lagtime (steps)"}}},
    "layer": [
     {"mark": {"type": "area", "color": "#1f77b4", "opacity": 0.2}, "encoding": {"y": {"field": "lo", "type": "quantitative", "scale": {"domain": [0, 1], "nice": false}, "axis": {"values": [0, 0.2, 0.4, 0.6, 0.8, 1], "format": ".1f", "title": "probability"}}, "y2": {"field": "hi"}}},
     {"mark": "line", "encoding": {"y": {"field": "predict", "type": "quantitative", "axis": {"values": [0, 0.2, 0.4, 0.6, 0.8, 1], "format": ".1f", "title": "probability"}}, "color": {"datum": "predict", "scale": {"domain": ["predict", "conf. 95.0%", "estimate"], "range": ["black", "transparent", "#1f77b4"]}, "legend": {"title": null, "orient": "none", "legendX": 1164, "legendY": -444, "direction": "horizontal"}}, "strokeDash": {"datum": "predict", "scale": {"domain": ["predict", "conf. 95.0%", "estimate"], "range": [[1, 0], [1, 0], [11.4, 4.9]]}, "legend": {"title": null, "orient": "none", "legendX": 1164, "legendY": -444, "direction": "horizontal"}}}},
     {"mark": "line", "encoding": {"y": {"field": "estimate", "type": "quantitative", "axis": {"values": [0, 0.2, 0.4, 0.6, 0.8, 1], "format": ".1f", "title": "probability"}}, "color": {"datum": "estimate"}, "strokeDash": {"datum": "estimate"}}},
     {"transform": [{"filter": "datum.lag == 0"}], "mark": "text", "encoding": {"x": {"datum": 0.25}, "y": {"datum": 0.05}, "text": {"field": "label"}}}
    ]}
  },
  {"transform": [{"filter": "datum.i == 10 && datum.j >= 2"}],
   "facet": {"row": {"field": "i", "type": "ordinal", "header": null}, "column": {"field": "j", "type": "ordinal", "header": null}},
   "spacing": {"row": 48.7, "column": 48}, "bounds": "flush",
   "resolve": {"axis": {"x": "independent", "y": "independent"}},
   "spec": {"width": 248, "height": 245,
    "encoding": {"x": {"field": "lag", "type": "quantitative", "scale": {"domain": [-2.5, 52.5], "nice": false, "zero": false}, "axis": {"values": [0, 20, 40], "title": "lagtime (steps)"}}},
    "layer": [
     {"mark": {"type": "area", "color": "#1f77b4", "opacity": 0.2}, "encoding": {"y": {"field": "lo", "type": "quantitative", "scale": {"domain": [0, 1], "nice": false}, "axis": {"values": [0, 0.2, 0.4, 0.6, 0.8, 1], "labelExpr": "' '", "title": null}}, "y2": {"field": "hi"}}},
     {"mark": "line", "encoding": {"y": {"field": "predict", "type": "quantitative", "axis": {"values": [0, 0.2, 0.4, 0.6, 0.8, 1], "labelExpr": "' '", "title": null}}, "color": {"datum": "predict", "scale": {"domain": ["predict", "conf. 95.0%", "estimate"], "range": ["black", "transparent", "#1f77b4"]}, "legend": {"title": null, "orient": "none", "legendX": 1164, "legendY": -444, "direction": "horizontal"}}, "strokeDash": {"datum": "predict", "scale": {"domain": ["predict", "conf. 95.0%", "estimate"], "range": [[1, 0], [1, 0], [11.4, 4.9]]}, "legend": {"title": null, "orient": "none", "legendX": 1164, "legendY": -444, "direction": "horizontal"}}}},
     {"mark": "line", "encoding": {"y": {"field": "estimate", "type": "quantitative", "axis": {"values": [0, 0.2, 0.4, 0.6, 0.8, 1], "labelExpr": "' '", "title": null}}, "color": {"datum": "estimate"}, "strokeDash": {"datum": "estimate"}}},
     {"transform": [{"filter": "datum.lag == 0"}], "mark": "text", "encoding": {"x": {"datum": 0.25}, "y": {"datum": 0.05}, "text": {"field": "label"}}}
    ]}
  }
],
"config": {
 "font": "DejaVu Sans",
 "view": {"stroke": "black", "strokeWidth": 1.64, "fill": "white"},
 "axis": {"domain": false, "grid": false, "ticks": true, "tickColor": "black", "tickWidth": 1.64, "tickSize": 7.2, "labelFont": "DejaVu Sans", "labelFontSize": 20.5, "labelColor": "black", "labelPadding": 7.2, "labelFlush": false, "labelOverlap": false, "titleFont": "DejaVu Sans", "titleFontSize": 20.5, "titleFontWeight": "normal", "titleColor": "black", "titlePadding": 8},
 "legend": {"symbolType": "stroke", "symbolSize": 2025, "symbolStrokeWidth": 3.1, "labelFont": "DejaVu Sans", "labelFontSize": 20.5, "labelColor": "black", "labelOffset": 16.4, "columnPadding": 0, "padding": 0},
 "line": {"strokeWidth": 3.1},
 "text": {"font": "DejaVu Sans", "fontSize": 20.5, "fontWeight": "bold", "align": "left", "baseline": "alphabetic", "color": "black"}
}
}
